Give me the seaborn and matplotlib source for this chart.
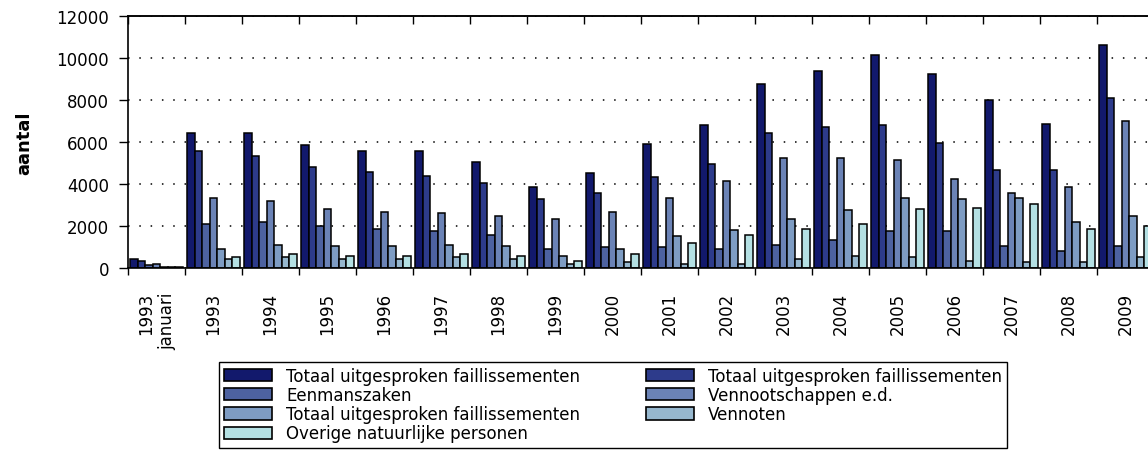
import numpy as np
import pandas as pd
import matplotlib
matplotlib.use("Agg")
import matplotlib.pyplot as plt
import matplotlib.patches as mpatches
import seaborn as sns

# periods on the x axis
periodes = ['1993\njanuari', '1993', '1994', '1995', '1996', '1997', '1998', '1999', '2000',
            '2001', '2002', '2003', '2004', '2005', '2006', '2007', '2008', '2009']

# series
totaal = [440, 6450, 6450, 5860, 5560, 5560, 5030, 3870, 4510,
          5890, 6800, 8760, 9380, 10150, 9220, 8000, 6870, 10610]
totaal_bedrijven = [340, 5570, 5340, 4790, 4570, 4400, 4030, 3270, 3570,
                    4330, 4950, 6420, 6710, 6800, 5960, 4650, 4650, 8110]
eenmanszaken = [120, 2100, 2200, 2020, 1880, 1740, 1580, 890, 990,
                990, 890, 1110, 1340, 1740, 1740, 1050, 810, 1050]
vennootschappen = [190, 3350, 3200, 2800, 2660, 2640, 2500, 2340, 2660,
                   3350, 4130, 5240, 5240, 5120, 4260, 3570, 3870, 7010]
totaal_personen = [60, 890, 1110, 1050, 1050, 1110, 1050, 590, 890,
                   1510, 1820, 2340, 2740, 3350, 3270, 3350, 2200, 2500]
vennoten = [25, 410, 530, 410, 430, 510, 450, 190, 290,
            190, 190, 410, 570, 510, 350, 270, 270, 510]
overige = [35, 510, 670, 590, 590, 650, 590, 350, 670,
           1200, 1580, 1880, 2100, 2800, 2880, 3040, 1880, 2020]

reeks_labels = ['Totaal uitgesproken faillissementen', 'Totaal uitgesproken faillissementen',
                'Eenmanszaken', 'Vennootschappen e.d.', 'Totaal uitgesproken faillissementen',
                'Vennoten', 'Overige natuurlijke personen']
kleuren = ['#12196c', '#2d3b8b', '#4d62a0', '#6b83b6', '#7e9cc3', '#96b7ce', '#b4e0e3']

series = [totaal, totaal_bedrijven, eenmanszaken, vennootschappen,
          totaal_personen, vennoten, overige]
keys = [f's{i}' for i in range(len(series))]

rows = []
for key, vals in zip(keys, series):
    for p, v in zip(periodes, vals):
        rows.append({'periode': p, 'reeks': key, 'aantal': v})
df = pd.DataFrame(rows)

sns.set_style('ticks')
plt.rcParams['font.family'] = ['DejaVu Sans']
plt.rcParams['text.color'] = 'black'
plt.rcParams['axes.labelcolor'] = 'black'
plt.rcParams['xtick.color'] = 'black'
plt.rcParams['ytick.color'] = 'black'

fig = plt.figure(figsize=(11.48, 4.52), dpi=100)
ax = fig.add_axes([128 / 1148, 1 - 269 / 452, 1026 / 1148, 252 / 452])

sns.barplot(data=df, x='periode', y='aantal', hue='reeks', order=periodes,
            hue_order=keys, palette=kleuren, width=0.93, gap=0, errorbar=None,
            edgecolor='black', linewidth=1.1, saturation=1, legend=False, ax=ax)

ax.set_xlim(-0.5, len(periodes) - 0.5)
ax.set_ylim(0, 12000)
ax.set_yticks(np.arange(0, 12001, 2000))
ax.tick_params(axis='y', direction='out', length=6.5, width=1, pad=7, labelsize=12)

# boundaries get the tick marks, centres get the labels
ax.set_xticks(np.arange(-0.5, len(periodes), 1))
ax.set_xticklabels([])
ax.set_xticks(np.arange(len(periodes)), minor=True)
ax.set_xticklabels(periodes, minor=True, rotation=90, ha='center', va='top',
                   ma='right', fontsize=12)
ax.tick_params(axis='x', which='major', direction='out', length=5, width=1, top=False)
ax.tick_params(axis='x', which='minor', length=0, pad=17)

sec = ax.secondary_xaxis('top')
sec.set_xticks(np.arange(-0.5, len(periodes), 1))
sec.tick_params(direction='in', length=6, width=1, labeltop=False)

ax.set_xlabel('')
ax.set_ylabel('aantal', fontsize=13, fontweight='bold', labelpad=17)

ax.set_axisbelow(True)
ax.yaxis.grid(True, linestyle=(0, (1, 6.4)), color='black', linewidth=1.1)
for s in ['top', 'left', 'bottom']:
    ax.spines[s].set_linewidth(1.2)
    ax.spines[s].set_color('black')
ax.spines['right'].set_visible(False)
sec.spines['top'].set_linewidth(1.2)

# legend in row order, two columns
handles = [mpatches.Patch(facecolor=c, edgecolor='black', linewidth=1.2) for c in kleuren]
volgorde = [0, 2, 4, 6, 1, 3, 5]
leg = fig.legend([handles[i] for i in volgorde], [reeks_labels[i] for i in volgorde],
                 ncol=2, loc='upper left', bbox_to_anchor=(219 / 1148, 1 - 363 / 452),
                 borderaxespad=0, borderpad=0.3, fontsize=12, labelspacing=0.07,
                 handlelength=2.9, handleheight=0.75, handletextpad=0.85,
                 columnspacing=3.9, fancybox=False, framealpha=1)
leg.get_frame().set_edgecolor('black')
leg.get_frame().set_linewidth(1.0)

plt.savefig('out.png', dpi=100)
